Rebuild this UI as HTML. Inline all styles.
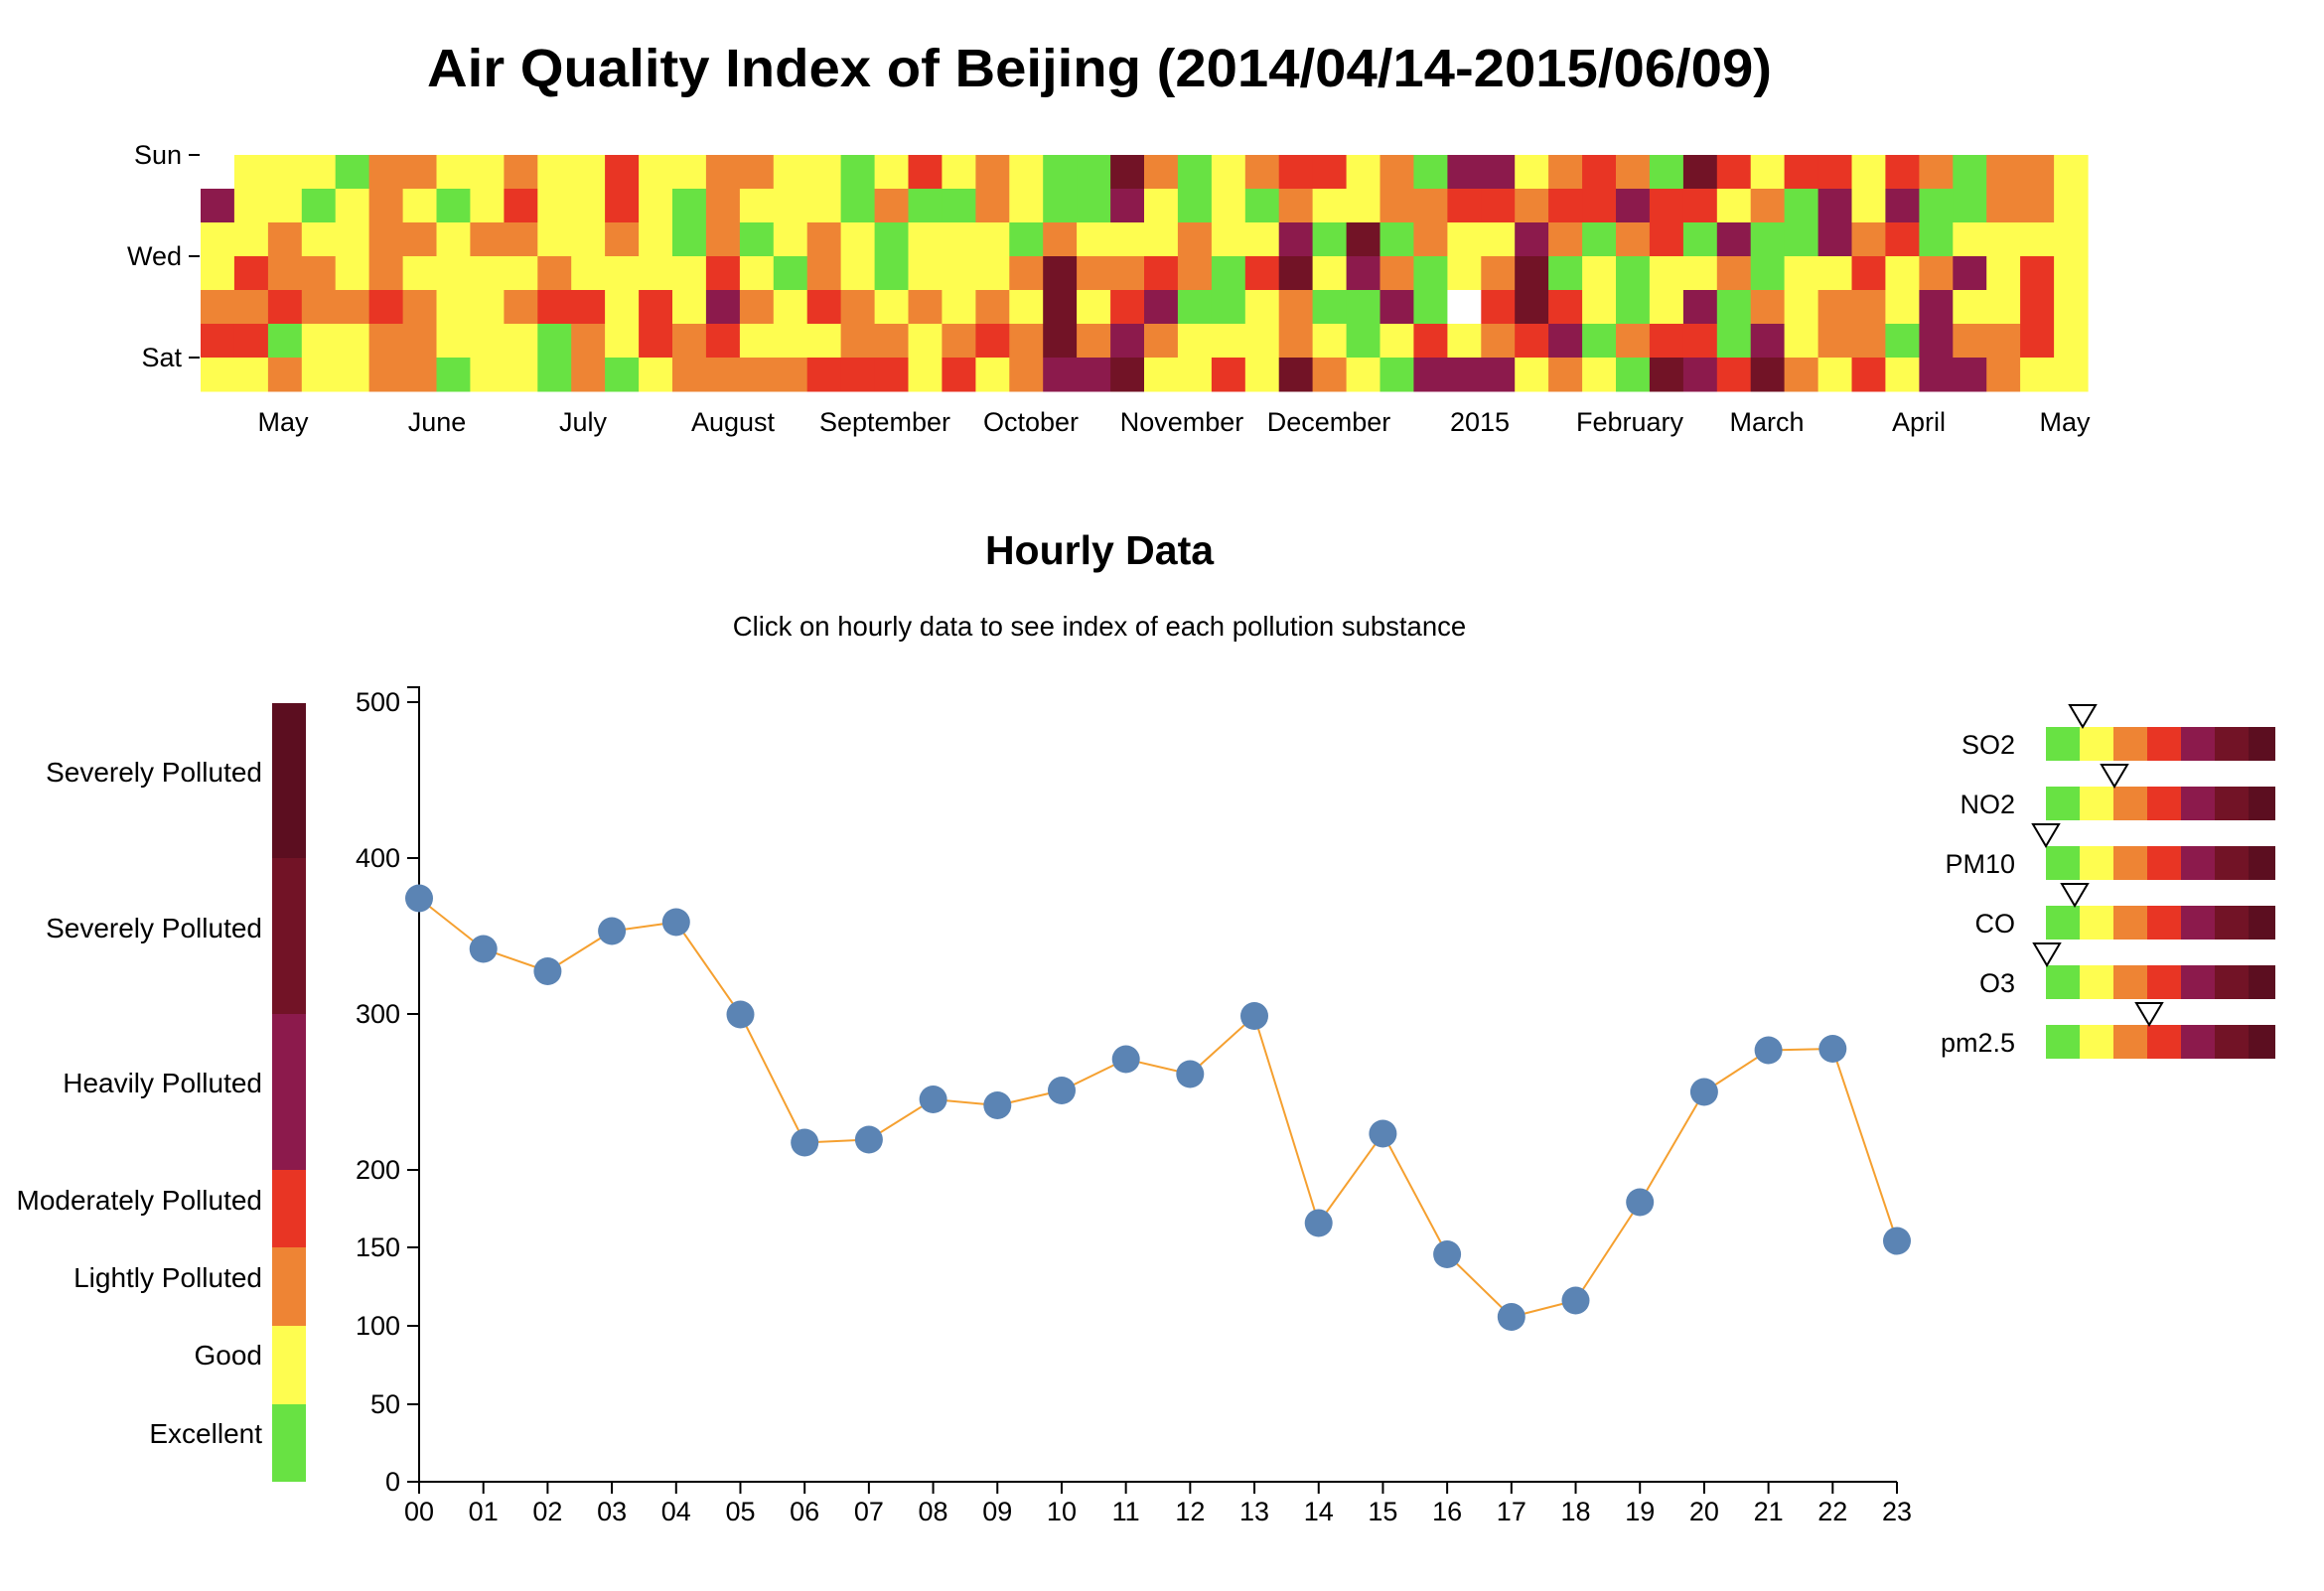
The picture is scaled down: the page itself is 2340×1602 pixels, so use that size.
<!DOCTYPE html>
<html><head><meta charset="utf-8"><style>
html,body{margin:0;padding:0;background:#fff;}
svg{display:block;font-family:"Liberation Sans",Arial,sans-serif;}
</style></head><body>
<svg id="s" width="2340" height="1602" viewBox="0 0 2340 1602" xmlns="http://www.w3.org/2000/svg">
<text x="1107" y="87" text-anchor="middle" font-size="54" font-weight="bold" textLength="1354" lengthAdjust="spacingAndGlyphs">Air Quality Index of Beijing (2014/04/14-2015/06/09)</text>
<g id="heat"></g>
<g font-size="27" text-anchor="end">
<text x="183" y="165">Sun</text><text x="183" y="267">Wed</text><text x="183" y="369">Sat</text>
</g>
<g stroke="#000" stroke-width="2"><line x1="190" y1="156" x2="201" y2="156"/><line x1="190" y1="258" x2="201" y2="258"/><line x1="190" y1="360" x2="201" y2="360"/></g>
<g font-size="27" text-anchor="middle">
<text x="285" y="434">May</text><text x="440" y="434">June</text><text x="587" y="434">July</text><text x="738" y="434">August</text><text x="891" y="434">September</text><text x="1038" y="434">October</text><text x="1190" y="434">November</text><text x="1338" y="434">December</text><text x="1490" y="434">2015</text><text x="1641" y="434">February</text><text x="1779" y="434">March</text><text x="1932" y="434">April</text><text x="2079" y="434">May</text>
</g>
<text x="1107" y="568" text-anchor="middle" font-size="41" font-weight="bold">Hourly Data</text>
<text x="1107" y="640" text-anchor="middle" font-size="27.5">Click on hourly data to see index of each pollution substance</text>
<rect x="274" y="708" width="34" height="156" fill="#5c0e20"/>
<rect x="274" y="864" width="34" height="157" fill="#721326"/>
<rect x="274" y="1021" width="34" height="157" fill="#8c1a4c"/>
<rect x="274" y="1178" width="34" height="78" fill="#e83524"/>
<rect x="274" y="1256" width="34" height="79" fill="#ee8434"/>
<rect x="274" y="1335" width="34" height="79" fill="#fefd50"/>
<rect x="274" y="1414" width="34" height="78" fill="#68e243"/>
<g font-size="28" text-anchor="end">
<text x="264" y="787">Severely Polluted</text>
<text x="264" y="944">Severely Polluted</text>
<text x="264" y="1100">Heavily Polluted</text>
<text x="264" y="1218">Moderately Polluted</text>
<text x="264" y="1296">Lightly Polluted</text>
<text x="264" y="1374">Good</text>
<text x="264" y="1453">Excellent</text>
</g>
<g stroke="#000" stroke-width="2" fill="none">
<path d="M410,692 H422 V1492 H1910"/>
</g>
<g id="axes" font-size="27"></g>
<g id="line"></g>
<g id="rl" font-size="27"></g>
</svg>
<script>
var C={G:"#68e243",Y:"#fefd50",O:"#ee8434",R:"#e83524",P:"#8c1a4c",D:"#721326",W:"#ffffff"};
var rows=[
"WYYYGOOYYOYYRY"+"YOOYYGYRYOYGGD"+"OGYORRYOGPPYOR"+"OGDRYRRYROGOOY",
"PYYGYOYGYRYYRY"+"GOYYYGOGGOYGGP"+"YGYGOYYOORRORR"+"PRRYOGPYPGGOOY",
"YYOYYOOYOOYYOY"+"GOGYOYGYYYGOYY"+"YOYYPGDGOYYPOG"+"ORGPGGPORGYYYY",
"YROOYOYYYYOYYY"+"YRYGOYGYYYODOO"+"ROGRDYPOGYODGY"+"GYYOGYYRYOPYRY",
"OOROOROYYORRYR"+"YPOYROYOYOYDYR"+"PGGYOGGPGWRDRY"+"GYPGOYOOYPYYRY",
"RRGYYOOYYYGOYR"+"ORYYYOOYOROLOP".replace("L","D")+"OYYYOYGYROROPG".replace("OROPG","ORPG")+"",
"YYOYYOOGYYGOGY"+"OOOORRRYRYOPPD"+"YYRYDOYGPPPYOY"+"GDPRDOYRYPPOYY"];
// fix row5 explicitly
rows[5]="RRGYYOOYYYGOYR"+"ORYYYOOYORODOP"+"OYYYOYGYRYORPG"+"ORRGPYOOGPOORY";
var h="";for(var r=0;r<7;r++){for(var i=0;i<56;i++){var x=202+i*1900/56;h+='<rect x="'+x.toFixed(1)+'" y="'+(156+r*34)+'" width="34.5" height="34.5" fill="'+C[rows[r][i]]+'"/>';}}
document.getElementById("heat").innerHTML=h;
var a="";var yt=[[0,1492],[50,1414],[100,1335],[150,1256],[200,1178],[300,1021],[400,864],[500,707]];
yt.forEach(function(t){a+='<line x1="410" y1="'+t[1]+'" x2="422" y2="'+t[1]+'" stroke="#000" stroke-width="2"/><text x="403" y="'+(t[1]+9)+'" text-anchor="end">'+t[0]+'</text>';});
var sp=(1910-422)/23;
for(var i=0;i<24;i++){var x=422+i*sp;a+='<line x1="'+x+'" y1="1492" x2="'+x+'" y2="1504" stroke="#000" stroke-width="2"/><text x="'+x+'" y="1531" text-anchor="middle">'+(i<10?"0"+i:i)+'</text>';}
document.getElementById("axes").innerHTML=a;
var py=[603,637,652,625,619,681,767,765,738,742,732,711,721,682,821,761,842,884,873,807,733,705,704,833];
var pts=py.map(function(v,i){return [422+i*sp,v*1.5];});
var l='<polyline fill="none" stroke="#f5a030" stroke-width="2" points="'+pts.map(function(p){return p[0].toFixed(1)+","+p[1];}).join(" ")+'"/>';
pts.forEach(function(p){l+='<circle cx="'+p[0].toFixed(1)+'" cy="'+p[1]+'" r="14" fill="#5b84b4"/>';});
document.getElementById("line").innerHTML=l;
var names=["SO2","NO2","PM10","CO","O3","pm2.5"],tips=[2097,2129,2060,2089,2061,2164];
var lc=["#68e243","#fefd50","#ee8434","#e83524","#8c1a4c","#721326","#5c0e20"];
var r="";for(var k=0;k<6;k++){var y=732+k*60;r+='<text x="2029" y="'+(y+27)+'" text-anchor="end">'+names[k]+'</text>';
for(var j=0;j<7;j++){r+='<rect x="'+(2060+j*34)+'" y="'+y+'" width="'+(j==6?27:34.5)+'" height="34" fill="'+lc[j]+'"/>';}
var t=tips[k];r+='<path d="M'+(t-13)+','+(y-22)+' L'+(t+13)+','+(y-22)+' L'+t+','+y+' Z" fill="#fff" stroke="#000" stroke-width="2"/>';}
document.getElementById("rl").innerHTML=r;
</script>
</body></html>
